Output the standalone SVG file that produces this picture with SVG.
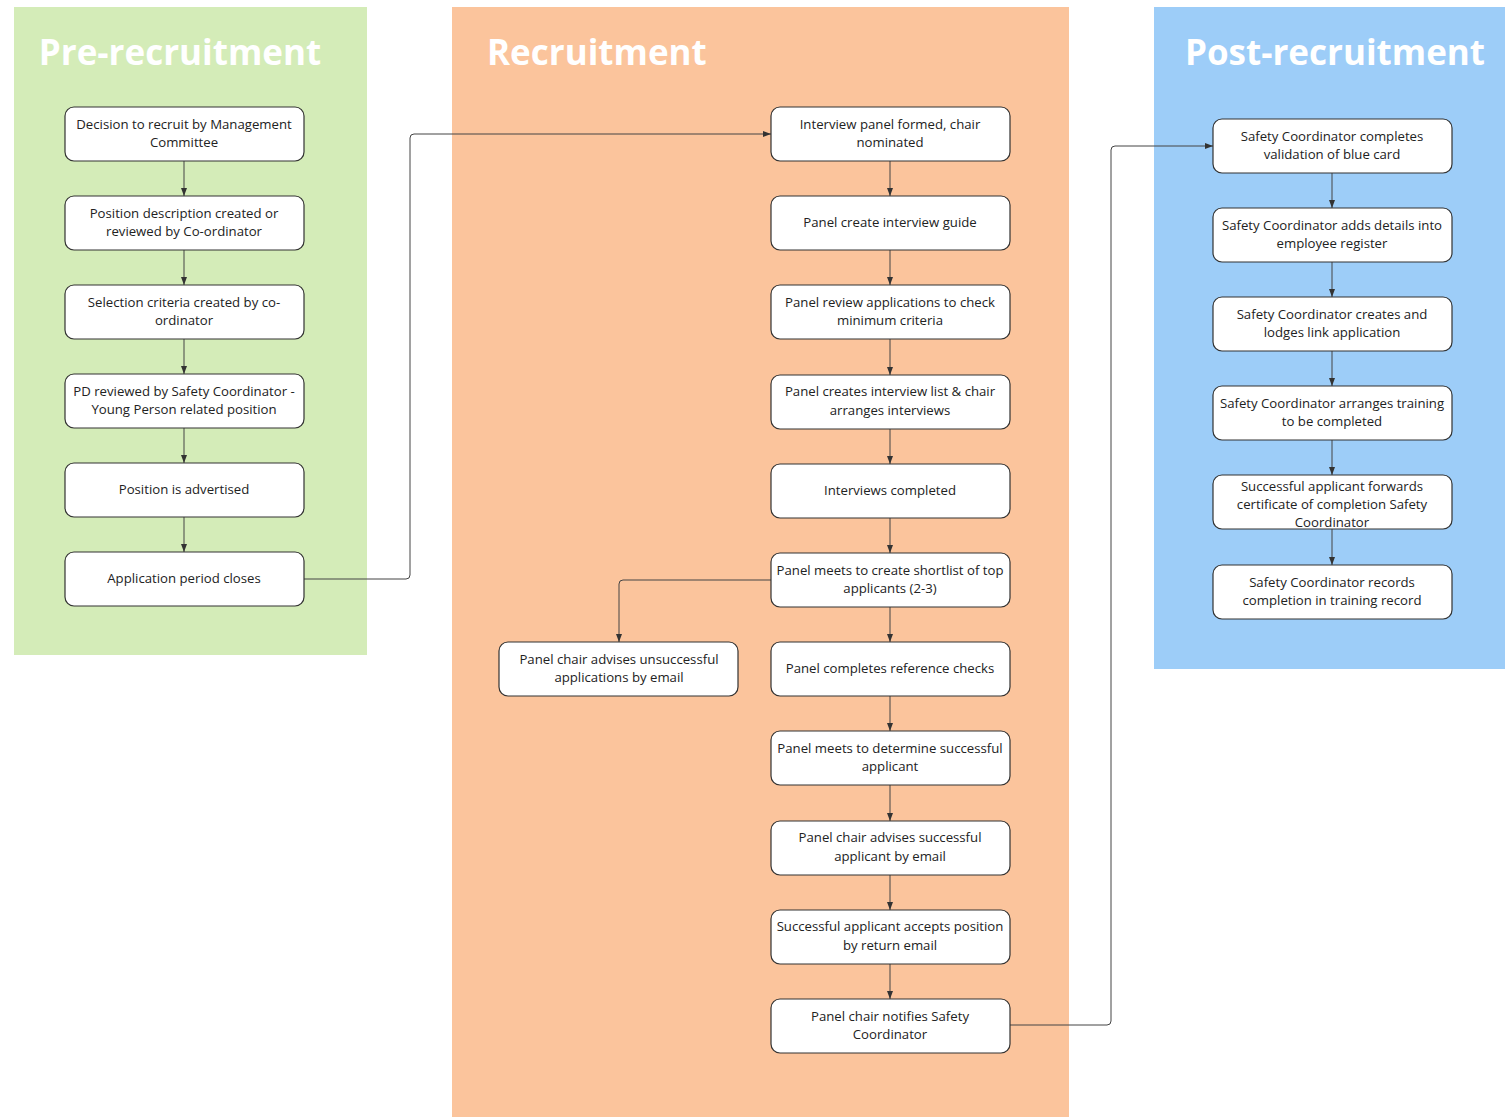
<svg xmlns="http://www.w3.org/2000/svg" width="1505" height="1117" viewBox="0 0 1505 1117">
<defs>
<marker id="arr" markerWidth="8" markerHeight="6" refX="8" refY="3" orient="auto" markerUnits="userSpaceOnUse">
<path d="M0,0 L8,3 L0,6 Z" fill="#333"/>
</marker>
<style>
.lane-title{font-family:"Open Sans","Liberation Sans",sans-serif;font-weight:bold;font-size:35px;fill:#fff}
.box{fill:#fff;stroke:#333;stroke-width:1.2}
.t{font-family:"Open Sans","Liberation Sans",sans-serif;font-size:13.2px;fill:#222;text-anchor:middle}
.c{fill:none;stroke:#444;stroke-width:1}
</style>
</defs>
<rect width="1505" height="1117" fill="#fff"/>
<g id="lanes">
<rect x="14" y="7" width="353" height="648" fill="#d4ecb8"/>
<rect x="452" y="7" width="617" height="1110" fill="#fbc49c"/>
<rect x="1154" y="7" width="351" height="662" fill="#9dcdf8"/>
<text class="lane-title" x="180" y="65" text-anchor="middle">Pre-recruitment</text>
<text class="lane-title" x="487" y="65">Recruitment</text>
<text class="lane-title" x="1335" y="65" text-anchor="middle">Post-recruitment</text>
</g>
<g id="connectors">
<path class="c" d="M184,161 V196" marker-end="url(#arr)"/>
<path class="c" d="M184,250 V285" marker-end="url(#arr)"/>
<path class="c" d="M184,339 V374" marker-end="url(#arr)"/>
<path class="c" d="M184,428 V463" marker-end="url(#arr)"/>
<path class="c" d="M184,517 V552" marker-end="url(#arr)"/>
<path class="c" d="M304,579 H406 Q410,579 410,575 V138 Q410,134 414,134 H771" marker-end="url(#arr)"/>
<path class="c" d="M890,161 V196" marker-end="url(#arr)"/>
<path class="c" d="M890,250 V285" marker-end="url(#arr)"/>
<path class="c" d="M890,339 V375" marker-end="url(#arr)"/>
<path class="c" d="M890,429 V464" marker-end="url(#arr)"/>
<path class="c" d="M890,518 V553" marker-end="url(#arr)"/>
<path class="c" d="M890,607 V642" marker-end="url(#arr)"/>
<path class="c" d="M771,580 H623 Q619,580 619,584 V642" marker-end="url(#arr)"/>
<path class="c" d="M890,696 V731" marker-end="url(#arr)"/>
<path class="c" d="M890,785 V821" marker-end="url(#arr)"/>
<path class="c" d="M890,875 V910" marker-end="url(#arr)"/>
<path class="c" d="M890,964 V999" marker-end="url(#arr)"/>
<path class="c" d="M1010,1025 H1107 Q1111,1025 1111,1021 V150 Q1111,146 1115,146 H1213" marker-end="url(#arr)"/>
<path class="c" d="M1332,173 V208" marker-end="url(#arr)"/>
<path class="c" d="M1332,262 V297" marker-end="url(#arr)"/>
<path class="c" d="M1332,351 V386" marker-end="url(#arr)"/>
<path class="c" d="M1332,440 V475" marker-end="url(#arr)"/>
<path class="c" d="M1332,529 V565" marker-end="url(#arr)"/>
</g>
<g id="n1"><rect class="box" x="65" y="107" width="239" height="54" rx="9"/><text class="t" x="184" y="129">Decision to recruit by Management</text><text class="t" x="184" y="147">Committee</text></g>
<g id="n2"><rect class="box" x="65" y="196" width="239" height="54" rx="9"/><text class="t" x="184" y="218">Position description created or</text><text class="t" x="184" y="236">reviewed by Co-ordinator</text></g>
<g id="n3"><rect class="box" x="65" y="285" width="239" height="54" rx="9"/><text class="t" x="184" y="307">Selection criteria created by co-</text><text class="t" x="184" y="325">ordinator</text></g>
<g id="n4"><rect class="box" x="65" y="374" width="239" height="54" rx="9"/><text class="t" x="184" y="396">PD reviewed by Safety Coordinator -</text><text class="t" x="184" y="414">Young Person related position</text></g>
<g id="n5"><rect class="box" x="65" y="463" width="239" height="54" rx="9"/><text class="t" x="184" y="494">Position is advertised</text></g>
<g id="n6"><rect class="box" x="65" y="552" width="239" height="54" rx="9"/><text class="t" x="184" y="583">Application period closes</text></g>
<g id="r1"><rect class="box" x="771" y="107" width="239" height="54" rx="9"/><text class="t" x="890" y="129">Interview panel formed, chair</text><text class="t" x="890" y="147">nominated</text></g>
<g id="r2"><rect class="box" x="771" y="196" width="239" height="54" rx="9"/><text class="t" x="890" y="227">Panel create interview guide</text></g>
<g id="r3"><rect class="box" x="771" y="285" width="239" height="54" rx="9"/><text class="t" x="890" y="307">Panel review applications to check</text><text class="t" x="890" y="325">minimum criteria</text></g>
<g id="r4"><rect class="box" x="771" y="375" width="239" height="54" rx="9"/><text class="t" x="890" y="396">Panel creates interview list &amp; chair</text><text class="t" x="890" y="415">arranges interviews</text></g>
<g id="r5"><rect class="box" x="771" y="464" width="239" height="54" rx="9"/><text class="t" x="890" y="495">Interviews completed</text></g>
<g id="r6"><rect class="box" x="771" y="553" width="239" height="54" rx="9"/><text class="t" x="890" y="575">Panel meets to create shortlist of top</text><text class="t" x="890" y="593">applicants (2-3)</text></g>
<g id="r7"><rect class="box" x="499" y="642" width="239" height="54" rx="9"/><text class="t" x="619" y="664">Panel chair advises unsuccessful</text><text class="t" x="619" y="682">applications by email</text></g>
<g id="r8"><rect class="box" x="771" y="642" width="239" height="54" rx="9"/><text class="t" x="890" y="673">Panel completes reference checks</text></g>
<g id="r9"><rect class="box" x="771" y="731" width="239" height="54" rx="9"/><text class="t" x="890" y="753">Panel meets to determine successful</text><text class="t" x="890" y="771">applicant</text></g>
<g id="r10"><rect class="box" x="771" y="821" width="239" height="54" rx="9"/><text class="t" x="890" y="842">Panel chair advises successful</text><text class="t" x="890" y="861">applicant by email</text></g>
<g id="r11"><rect class="box" x="771" y="910" width="239" height="54" rx="9"/><text class="t" x="890" y="931">Successful applicant accepts position</text><text class="t" x="890" y="950">by return email</text></g>
<g id="r12"><rect class="box" x="771" y="999" width="239" height="54" rx="9"/><text class="t" x="890" y="1021">Panel chair notifies Safety</text><text class="t" x="890" y="1039">Coordinator</text></g>
<g id="p1"><rect class="box" x="1213" y="119" width="239" height="54" rx="9"/><text class="t" x="1332" y="141">Safety Coordinator completes</text><text class="t" x="1332" y="159">validation of blue card</text></g>
<g id="p2"><rect class="box" x="1213" y="208" width="239" height="54" rx="9"/><text class="t" x="1332" y="230">Safety Coordinator adds details into</text><text class="t" x="1332" y="248">employee register</text></g>
<g id="p3"><rect class="box" x="1213" y="297" width="239" height="54" rx="9"/><text class="t" x="1332" y="319">Safety Coordinator creates and</text><text class="t" x="1332" y="337">lodges link application</text></g>
<g id="p4"><rect class="box" x="1213" y="386" width="239" height="54" rx="9"/><text class="t" x="1332" y="408">Safety Coordinator arranges training</text><text class="t" x="1332" y="426">to be completed</text></g>
<g id="p5"><rect class="box" x="1213" y="475" width="239" height="54" rx="9"/><text class="t" x="1332" y="491">Successful applicant forwards</text><text class="t" x="1332" y="509">certificate of completion Safety</text><text class="t" x="1332" y="527">Coordinator</text></g>
<g id="p6"><rect class="box" x="1213" y="565" width="239" height="54" rx="9"/><text class="t" x="1332" y="587">Safety Coordinator records</text><text class="t" x="1332" y="605">completion in training record</text></g>
</svg>
